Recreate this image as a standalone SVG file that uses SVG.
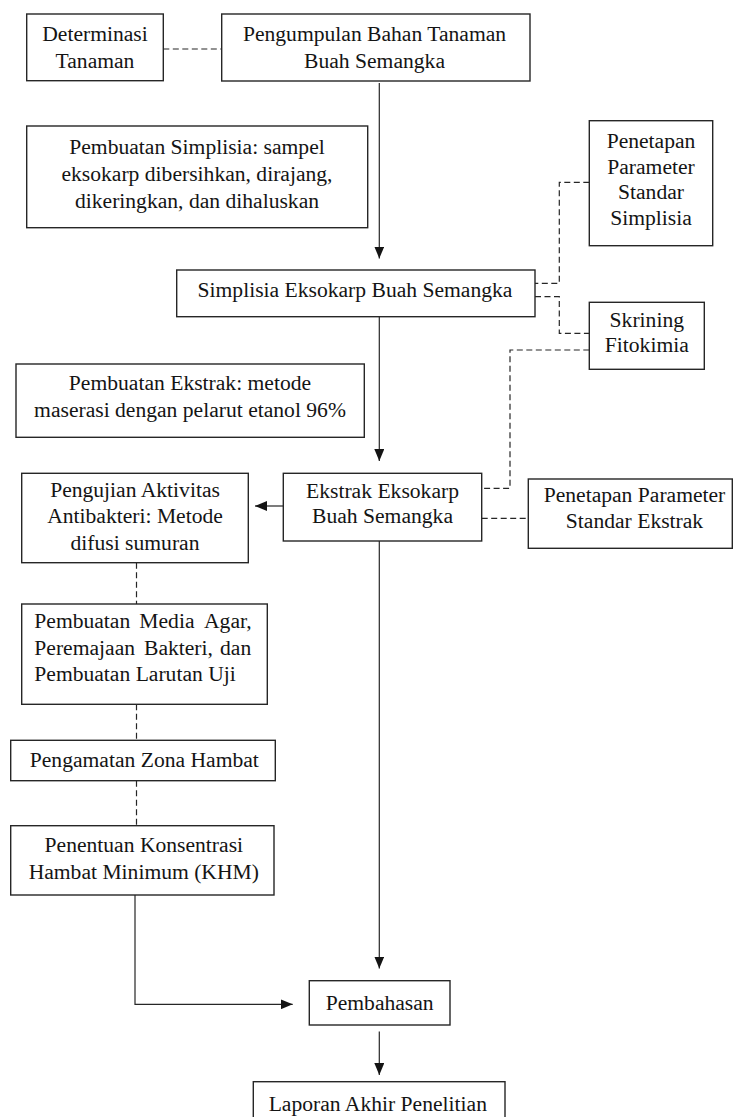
<svg xmlns="http://www.w3.org/2000/svg" width="733" height="1117" viewBox="0 0 733 1117">
<style>
.box{fill:#fff;stroke:#262626;stroke-width:1.4}
.t{font-family:"Liberation Serif",monospace;font-size:21.6px;fill:#141414;text-anchor:middle}
.tl{font-family:"Liberation Serif",monospace;font-size:21.6px;fill:#141414}
.dash{fill:none;stroke:#262626;stroke-width:1.2;stroke-dasharray:6 3.5}
.arr{fill:none;stroke:#262626;stroke-width:1.2;marker-end:url(#ah)}
</style>
<defs>
<marker id="ah" viewBox="0 0 12 10" refX="12" refY="5" markerWidth="12" markerHeight="10" markerUnits="userSpaceOnUse" orient="auto">
<path d="M0,0 L12,5 L0,10 Z" fill="#141414"/>
</marker>
</defs>
<rect width="733" height="1117" fill="#fff"/>
<g id="connectors">
<line class="dash" x1="163.3" y1="49" x2="221.7" y2="49"/>
<line class="arr" x1="379.3" y1="83" x2="379.3" y2="258.5"/>
<path class="dash" d="M589.3,182.3 H559.3 V283.3 H535"/>
<path class="dash" d="M535,296.7 H559.3 V333.3 H589.3"/>
<line class="arr" x1="379.3" y1="317" x2="379.3" y2="461"/>
<path class="dash" d="M589.3,350 H510 V488.3 H481.7"/>
<line class="dash" x1="481.7" y1="518.3" x2="528.3" y2="518.3"/>
<line class="arr" x1="283.3" y1="506" x2="255" y2="506"/>
<line class="dash" x1="136.5" y1="562.7" x2="136.5" y2="604"/>
<line class="dash" x1="136.5" y1="704.3" x2="136.5" y2="740.3"/>
<line class="dash" x1="136.5" y1="780.7" x2="136.5" y2="825.7"/>
<line class="arr" x1="379.3" y1="541" x2="379.3" y2="968.5"/>
<path class="arr" d="M135,895 V1004.3 H292.7"/>
<line class="arr" x1="379.3" y1="1031.5" x2="379.3" y2="1075"/>
</g>
<g id="determinasi">
<rect class="box" x="26.7" y="14" width="136.6" height="66.7"/>
<text class="t" x="95" y="40.7">Determinasi</text>
<text class="t" x="95" y="67.7">Tanaman</text>
</g>
<g id="pengumpulan">
<rect class="box" x="221.7" y="14" width="308.3" height="67"/>
<text class="t" x="374.5" y="40.7">Pengumpulan Bahan Tanaman</text>
<text class="t" x="374.5" y="67.7">Buah Semangka</text>
</g>
<g id="pembuatan-simplisia">
<rect class="box" x="26.7" y="126" width="341" height="101.7"/>
<text class="t" x="197" y="154">Pembuatan Simplisia: sampel</text>
<text class="t" x="197" y="181">eksokarp dibersihkan, dirajang,</text>
<text class="t" x="197" y="207.5">dikeringkan, dan dihaluskan</text>
</g>
<g id="simplisia">
<rect class="box" x="176.7" y="270" width="358.3" height="46.7"/>
<text class="t" x="355" y="296.7">Simplisia Eksokarp Buah Semangka</text>
</g>
<g id="parameter-simplisia">
<rect class="box" x="589.3" y="120.7" width="123.4" height="125"/>
<text class="t" x="651" y="147.8">Penetapan</text>
<text class="t" x="651" y="173.5">Parameter</text>
<text class="t" x="651" y="199">Standar</text>
<text class="t" x="651" y="224.5">Simplisia</text>
</g>
<g id="skrining">
<rect class="box" x="589.3" y="302.3" width="115" height="67"/>
<text class="t" x="646.8" y="326.7">Skrining</text>
<text class="t" x="646.8" y="352.3">Fitokimia</text>
</g>
<g id="pembuatan-ekstrak">
<rect class="box" x="16" y="364" width="348.3" height="73.3"/>
<text class="t" x="190" y="390.3">Pembuatan Ekstrak: metode</text>
<text class="t" x="190" y="416.7">maserasi dengan pelarut etanol 96%</text>
</g>
<g id="ekstrak">
<rect class="box" x="283.3" y="473.3" width="198.4" height="67.7"/>
<text class="t" x="382.5" y="498">Ekstrak Eksokarp</text>
<text class="t" x="382.5" y="523.3">Buah Semangka</text>
</g>
<g id="parameter-ekstrak">
<rect class="box" x="528.3" y="479" width="204" height="69.3"/>
<text class="t" x="634.5" y="501.7">Penetapan Parameter</text>
<text class="t" x="634.5" y="528.3">Standar Ekstrak</text>
</g>
<g id="pengujian">
<rect class="box" x="21.7" y="473.3" width="226.6" height="89.4"/>
<text class="t" x="135" y="497.3">Pengujian Aktivitas</text>
<text class="t" x="135" y="523.3">Antibakteri: Metode</text>
<text class="t" x="135" y="550">difusi sumuran</text>
</g>
<g id="media">
<rect class="box" x="21.7" y="604" width="245.6" height="100.3"/>
<text class="tl" y="628.3"><tspan x="34.3">Pembuatan</tspan><tspan x="139.3">Media</tspan><tspan x="204">Agar,</tspan></text>
<text class="tl" y="655"><tspan x="34.3">Peremajaan</tspan><tspan x="144">Bakteri,</tspan><tspan x="220">dan</tspan></text>
<text class="tl" x="34.3" y="680.7">Pembuatan Larutan Uji</text>
</g>
<g id="pengamatan">
<rect class="box" x="10.7" y="740.3" width="264.6" height="40.4"/>
<text class="t" x="144.3" y="766.7">Pengamatan Zona Hambat</text>
</g>
<g id="khm">
<rect class="box" x="10.7" y="825.7" width="263.3" height="69.3"/>
<text class="t" x="143.8" y="851.7">Penentuan Konsentrasi</text>
<text class="t" x="143.8" y="878.7">Hambat Minimum (KHM)</text>
</g>
<g id="pembahasan">
<rect class="box" x="309.3" y="980.7" width="140.7" height="44.3"/>
<text class="t" x="379.7" y="1010">Pembahasan</text>
</g>
<g id="laporan">
<rect class="box" x="253.3" y="1081.7" width="251.7" height="50"/>
<text class="t" x="377.8" y="1110.7">Laporan Akhir Penelitian</text>
</g>
</svg>
